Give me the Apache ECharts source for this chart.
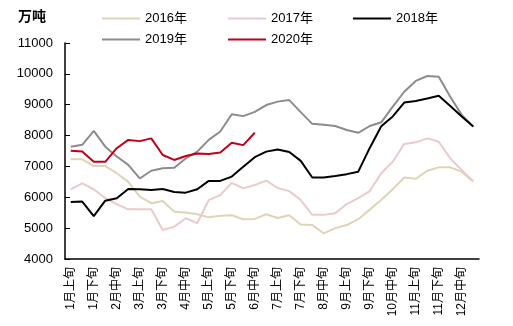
<!DOCTYPE html>
<html>
<head>
<meta charset="utf-8">
<script src="https://cdn.jsdelivr.net/npm/echarts@6/dist/echarts.min.js"></script>
<style>html,body{margin:0;padding:0;background:#fff}#c{width:513px;height:326px}</style>
</head>
<body>
<div id="c"></div>
<script>
var categories = [];
var months = ['1月','2月','3月','4月','5月','6月','7月','8月','9月','10月','11月','12月'];
var parts = ['上旬','中旬','下旬'];
months.forEach(function(m){ parts.forEach(function(p){ categories.push(m + p); }); });

var yTicks = [4000, 11000, 1000];

var s2016 = [7230,7230,7010,7010,6780,6500,6020,5810,5880,5530,5510,5450,5350,5400,5420,5290,5300,5450,5330,5420,5120,5100,4830,5000,5100,5290,5600,5920,6260,6640,6600,6860,6970,6970,6830,6500];
var s2017 = [6260,6450,6260,5970,5780,5610,5610,5610,4940,5050,5320,5160,5910,6070,6470,6290,6400,6540,6300,6200,5910,5430,5430,5480,5780,5970,6200,6780,7150,7730,7780,7910,7800,7260,6880,6520];
var s2018 = [5850,5860,5390,5890,5970,6270,6260,6240,6270,6170,6150,6260,6530,6530,6670,6990,7300,7480,7550,7470,7180,6640,6640,6690,6750,6830,7600,8300,8620,9070,9120,9200,9290,8960,8620,8290];
var s2019 = [7640,7700,8150,7640,7320,7050,6610,6860,6940,6960,7260,7480,7860,8130,8690,8630,8770,8990,9100,9150,8760,8380,8350,8310,8180,8090,8310,8430,8940,9420,9770,9930,9910,9260,8670,8290];
var s2020 = [7510,7480,7150,7150,7590,7860,7820,7910,7370,7210,7340,7420,7400,7450,7770,7690,8090];

var names = ['2016年','2017年','2018年','2019年','2020年'];
var colors = ['#DDD5B6','#EBCACB','#000000','#8C8C8C','#C00018'];
var datas = [s2016, s2017, s2018, s2019, s2020];

var font = "'Liberation Sans', 'Noto Sans CJK SC', sans-serif";
var legendPos = [[102,12],[228,12],[353,12],[102,33],[228,33]];

var chart = echarts.init(document.getElementById('c'));
chart.setOption({
  animation: false,
  textStyle: { fontFamily: font },
  title: { text: '万吨', left: 18, top: 10, padding: 0, textStyle: { fontSize: 14, fontWeight: 'bold', color: '#000', fontFamily: font } },
  legend: names.map(function(n, i){
    return {
      data: [n], left: legendPos[i][0], top: legendPos[i][1], padding: 0,
      icon: 'rect', itemWidth: 38, itemHeight: 2, itemGap: 5,
      textStyle: { fontSize: 13, color: '#000', fontFamily: font }
    };
  }),
  grid: { left: 65, right: 34, top: 43, bottom: 67 },
  xAxis: {
    type: 'category', data: categories, boundaryGap: true,
    axisLine: { lineStyle: { color: '#000', width: 1.5 } },
    axisTick: { inside: true, length: 4, interval: 0, lineStyle: { color: '#000' } },
    axisLabel: { interval: 1, rotate: 90, color: '#000', fontSize: 12, margin: 8, fontFamily: font }
  },
  yAxis: {
    type: 'value', min: yTicks[0], max: yTicks[1], interval: yTicks[2],
    axisLine: { show: true, lineStyle: { color: '#000', width: 1.5 } },
    axisTick: { show: true, inside: true, length: 5, lineStyle: { color: '#000' } },
    splitLine: { show: false },
    axisLabel: { color: '#000', fontSize: 13, margin: 12, fontFamily: font, formatter: function(v){ return String(v); } }
  },
  series: names.map(function(n, i){
    return {
      name: n, type: 'line', data: datas[i], showSymbol: false, symbol: 'none',
      lineStyle: { color: colors[i], width: 2 }, itemStyle: { color: colors[i] },
      z: i === 2 ? 5 : (i === 4 ? 6 : 3)
    };
  })
});
</script>
</body>
</html>
